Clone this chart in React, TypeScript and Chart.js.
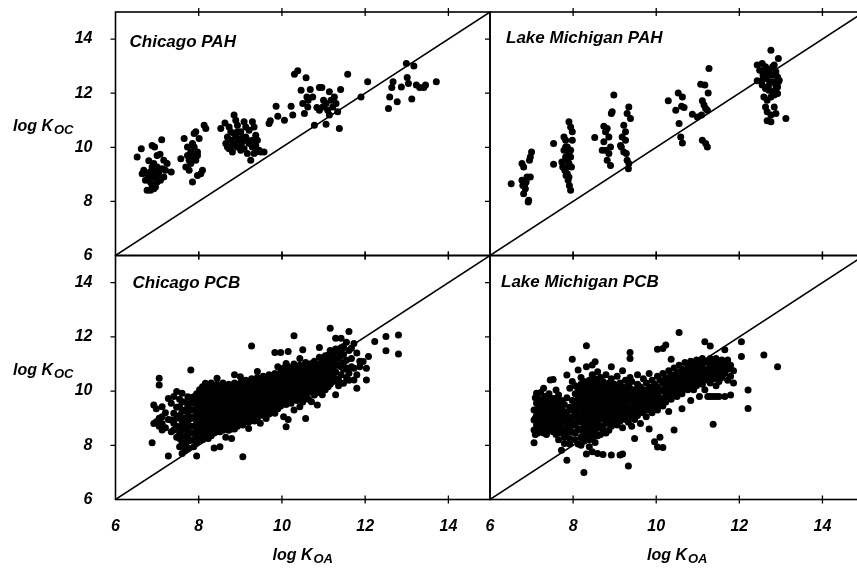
import { useEffect, useRef } from 'react';
import { Chart, registerables } from 'chart.js';

Chart.register(...registerables);

// ---------- data ----------
const axisMin = 6;
const axisMax = 15;
const tickLabels = [6, 8, 10, 12, 14];
const tickMarks = [8, 10, 12, 14];
const oneToOne = [6, 15];
const panelTitles = ['Chicago PAH', 'Lake Michigan PAH', 'Chicago PCB', 'Lake Michigan PCB'];
const yTitle = ['log K', 'OC'];
const xTitle = ['log K', 'OA'];

// [log KOA, log KOC]
const chicagoPah: [number, number][] = [
  [6.52, 9.64], [6.62, 9.95], [6.88, 10.07], [6.94, 10.01], [7.11, 10.28], [7.0, 9.7], [7.07, 9.74], [7.16, 9.52],
  [7.24, 9.4], [7.34, 9.09], [6.68, 9.15], [6.76, 9.02], [6.8, 8.9], [6.84, 8.72], [6.88, 8.59], [6.76, 8.41],
  [6.84, 8.41], [6.92, 8.47], [6.96, 8.53], [7.0, 8.72], [7.08, 8.78], [7.16, 8.9], [7.2, 9.15], [7.0, 9.27],
  [6.92, 9.4], [6.88, 9.27], [6.83, 9.09], [6.96, 9.02], [7.04, 9.09], [7.12, 9.21], [6.64, 9.02], [6.72, 8.78],
  [6.92, 8.9], [7.02, 8.93], [6.8, 9.5], [6.9, 9.15],
  [7.57, 9.58], [7.65, 10.32], [7.69, 9.27], [7.73, 10.01], [7.77, 9.15], [7.85, 8.72], [7.81, 9.83], [7.89, 10.51],
  [7.93, 10.57], [7.89, 9.64], [7.97, 8.96], [8.05, 9.02], [8.09, 9.15], [8.13, 10.81], [8.17, 10.69], [8.01, 10.32],
  [7.97, 9.83], [7.85, 9.64], [7.93, 9.52], [7.81, 9.4], [7.73, 9.7], [7.89, 10.01], [7.97, 9.7], [7.85, 10.14], [7.77, 9.52],
  [8.53, 10.69], [8.63, 10.9], [8.73, 10.75], [8.85, 11.19], [8.89, 11.0], [8.93, 10.81], [9.01, 10.57], [9.09, 10.94],
  [9.13, 10.75], [9.21, 10.63], [9.29, 10.94], [9.33, 10.75], [9.37, 10.44], [9.41, 10.26], [9.49, 9.83], [9.57, 9.83],
  [9.25, 9.52], [9.17, 9.77], [9.09, 9.95], [9.01, 9.89], [8.93, 10.01], [8.85, 10.14], [8.77, 10.26], [8.69, 10.38],
  [8.65, 10.14], [8.73, 9.95], [8.81, 9.83], [8.89, 10.38], [8.97, 10.26], [9.05, 10.2], [9.13, 10.38], [9.21, 10.14],
  [9.29, 10.01], [9.37, 9.83], [9.45, 9.89], [8.77, 10.57], [8.85, 10.51], [8.93, 10.57], [9.05, 10.38], [9.17, 10.26],
  [9.29, 10.26], [8.69, 10.01], [9.33, 9.77], [9.37, 10.07], [8.81, 10.07], [9.01, 10.07],
  [9.69, 10.88], [9.72, 10.98], [9.86, 11.52], [9.9, 11.15], [10.06, 11.0], [10.22, 11.52], [10.26, 11.19], [10.3, 12.7],
  [10.38, 12.83], [10.46, 12.11], [10.5, 11.62], [10.54, 11.25], [10.58, 12.57], [10.6, 11.86], [10.63, 11.74], [10.68, 12.14],
  [10.74, 11.86], [10.78, 10.81], [10.84, 11.47], [10.9, 12.21], [10.96, 12.21], [11.0, 11.74], [11.06, 11.62], [11.06, 10.85],
  [11.1, 11.37], [11.14, 12.05], [11.18, 11.74], [11.22, 11.49], [11.26, 11.86], [11.3, 11.62], [11.34, 11.31], [11.38, 10.69],
  [11.41, 12.14], [11.14, 11.19], [10.98, 11.49], [10.9, 11.37], [10.62, 11.49], [11.58, 12.7], [11.9, 11.86], [12.06, 12.42],
  [12.59, 11.86], [12.56, 11.43], [12.67, 12.42], [12.64, 12.21], [12.77, 11.68], [12.87, 12.23], [12.99, 13.1], [13.01, 12.58],
  [13.04, 12.36], [13.12, 11.78], [13.17, 13.0], [13.23, 12.3], [13.31, 12.21], [13.41, 12.21], [13.45, 12.3], [13.71, 12.42],
];

const lakeMichiganPah: [number, number][] = [
  [6.51, 8.65], [6.77, 9.4], [6.81, 9.27], [6.77, 8.78], [6.79, 8.59], [6.84, 8.65], [6.85, 8.47], [6.81, 8.28],
  [6.89, 8.9], [6.93, 8.04], [6.92, 7.98], [6.97, 9.64], [7.0, 9.83], [6.95, 9.52], [6.97, 8.9], [6.87, 8.72],
  [7.53, 10.14], [7.53, 9.37], [7.78, 10.38], [7.82, 10.26], [7.86, 10.01], [7.9, 10.94], [7.94, 10.75], [7.98, 10.57],
  [7.78, 9.89], [7.82, 9.64], [7.86, 9.52], [7.9, 9.77], [7.94, 9.64], [7.75, 9.27], [7.8, 9.15], [7.83, 8.96],
  [7.88, 8.78], [7.91, 8.59], [7.94, 8.41], [7.96, 9.27], [7.98, 10.26], [7.86, 9.27], [7.9, 9.4], [7.82, 10.01],
  [7.94, 9.89], [7.73, 9.46], [7.86, 9.02], [7.9, 8.9],
  [8.52, 10.36], [8.74, 10.78], [8.78, 10.57], [8.82, 10.69], [8.86, 10.38], [8.74, 10.2], [8.78, 9.89], [8.86, 9.77],
  [8.82, 9.52], [8.9, 9.33], [8.94, 11.31], [8.98, 11.93], [8.92, 11.25], [9.22, 10.81], [9.18, 10.38], [9.26, 10.57],
  [9.3, 11.25], [9.34, 11.49], [9.38, 11.06], [9.16, 10.01], [9.22, 9.83], [9.28, 9.77], [9.3, 9.52], [9.34, 9.4],
  [9.33, 9.21], [9.14, 10.07], [9.26, 10.26], [8.9, 10.01], [8.7, 9.89],
  [10.29, 11.72], [10.53, 12.01], [10.63, 11.86], [10.67, 11.47], [10.47, 11.37], [10.61, 11.52], [10.55, 10.88], [10.59, 10.38],
  [10.63, 10.16], [10.87, 11.22], [11.07, 12.33], [11.17, 12.3], [11.25, 12.01], [11.27, 12.91], [11.11, 11.72], [11.15, 11.56],
  [11.19, 11.43], [11.09, 11.19], [11.23, 11.37], [11.11, 10.26], [11.19, 10.14], [11.23, 10.01], [10.99, 11.12],
  [12.76, 13.59], [12.94, 13.28], [12.43, 13.04], [12.55, 13.1], [12.63, 12.98], [12.71, 12.85], [12.8, 12.98], [12.84, 13.04],
  [12.88, 12.79], [12.92, 12.6], [12.96, 12.48], [12.49, 12.85], [12.57, 12.67], [12.65, 12.54], [12.73, 12.42], [12.8, 12.67],
  [12.86, 12.36], [12.92, 12.23], [12.55, 12.3], [12.63, 12.17], [12.71, 12.11], [12.8, 12.05], [12.89, 11.99], [12.43, 12.46],
  [12.59, 11.86], [12.67, 11.74], [12.76, 11.86], [12.84, 11.93], [12.92, 11.99], [12.63, 11.49], [12.67, 11.31], [12.76, 11.19],
  [12.84, 11.49], [12.88, 11.25], [12.67, 10.98], [12.76, 10.94], [13.12, 11.06], [12.59, 12.79], [12.71, 12.67], [12.8, 12.42],
  [12.7, 12.26], [12.55, 12.48], [12.88, 12.17], [12.94, 12.42],
];

// congener log KOA -> measured log KOC values
const chicagoPcb: [number, number[]][] = [
  [6.88, [8.09]], [6.92, [9.49, 8.8]], [6.98, [8.87, 9.35]], [7.05, [10.47, 10.22, 8.7, 9.0]],
  [7.12, [8.56, 9.05, 9.42, 8.8]], [7.2, [9.2, 8.65]], [7.27, [7.6, 9.73, 8.95]], [7.34, [9.55, 8.93, 8.5]],
  [7.4, [9.18, 8.56, 8.81, 9.8]], [7.47, [9.98, 9.4, 8.3, 8.7, 9.0]], [7.54, [9.42, 8.68, 8.25, 7.95, 9.7, 9.1, 8.45]],
  [7.6, [7.7, 9.61, 9.92, 8.9, 9.25, 8.1, 8.55]], [7.67, [9.3, 8.81, 8.32, 7.82, 9.6, 9.0, 8.6, 8.05]],
  [7.74, [9.79, 9.18, 8.62, 7.9, 9.45, 8.9, 8.4, 8.15]], [7.81, [10.78, 8.19, 9.55, 8.99, 9.3, 8.7, 8.45, 9.75]],
  [7.88, [7.95, 9.79, 8.44, 9.3, 9.05, 8.7, 8.2, 9.55]], [7.95, [7.6, 9.9, 9.6, 9.35, 9.1, 8.85, 8.6, 8.35, 8.1]],
  [8.02, [9.8, 9.55, 9.3, 9.05, 8.8, 8.55, 8.3, 10.05]], [8.09, [10.16, 9.95, 9.7, 9.45, 9.2, 8.95, 8.7, 8.45, 8.2]],
  [8.16, [10.29, 9.85, 9.6, 9.35, 9.1, 8.85, 8.6, 8.35, 10.05]], [8.23, [10.2, 9.95, 9.7, 9.45, 9.2, 8.95, 8.7, 8.45, 8.25]],
  [8.3, [10.3, 10.05, 9.8, 9.55, 9.3, 9.05, 8.8, 8.55, 8.35]], [8.37, [10.15, 9.9, 9.65, 9.4, 9.15, 8.9, 8.65, 8.45, 7.9]],
  [8.44, [10.47, 10.25, 10.0, 9.75, 9.5, 9.25, 9.0, 8.75, 8.5]], [8.51, [10.2, 9.95, 9.7, 9.45, 9.2, 8.95, 8.7, 8.5, 7.95]],
  [8.58, [10.3, 10.05, 9.8, 9.55, 9.3, 9.05, 8.8, 8.55]], [8.65, [10.15, 9.9, 9.65, 9.4, 9.15, 8.9, 8.65, 8.3]],
  [8.72, [10.25, 10.0, 9.75, 9.5, 9.25, 9.0, 8.75, 8.55]], [8.79, [10.1, 9.85, 9.6, 9.35, 9.1, 8.85, 8.6, 8.25]],
  [8.86, [10.6, 10.3, 10.05, 9.8, 9.55, 9.3, 9.05, 8.8, 8.6]], [8.93, [10.15, 9.9, 9.65, 9.4, 9.15, 8.9, 8.7]],
  [9.0, [10.53, 10.3, 10.05, 9.8, 9.55, 9.3, 9.05, 8.8]], [9.06, [7.58, 10.2, 9.95, 9.7, 9.45, 9.2, 8.95, 8.75]],
  [9.13, [10.4, 10.15, 9.9, 9.65, 9.4, 9.15, 8.9]], [9.2, [10.3, 10.05, 9.8, 9.55, 9.3, 9.05, 8.85, 8.62]],
  [9.27, [11.66, 10.45, 10.2, 9.95, 9.7, 9.45, 9.2, 8.95]], [9.34, [10.35, 10.1, 9.85, 9.6, 9.35, 9.1, 8.9]],
  [9.41, [10.72, 10.5, 10.25, 10.0, 9.75, 9.5, 9.25, 9.0]], [9.48, [10.4, 10.15, 9.9, 9.65, 9.4, 9.15, 8.81]],
  [9.55, [10.55, 10.3, 10.05, 9.8, 9.55, 9.3, 9.1]], [9.62, [10.45, 10.2, 9.95, 9.7, 9.45, 9.2, 8.99]],
  [9.69, [10.6, 10.35, 10.1, 9.85, 9.6, 9.35, 9.15]], [9.76, [10.5, 10.25, 10.0, 9.75, 9.5, 9.25]],
  [9.83, [11.42, 10.65, 10.4, 10.15, 9.9, 9.65, 9.4, 9.18]], [9.9, [10.9, 10.55, 10.3, 10.05, 9.8, 9.55, 9.35]],
  [9.97, [11.42, 10.7, 10.45, 10.2, 9.95, 9.7, 9.45]], [10.04, [10.85, 10.6, 10.35, 10.1, 9.85, 9.6, 9.05]],
  [10.1, [11.02, 10.75, 10.5, 10.25, 10.0, 9.75, 9.5, 8.68]], [10.15, [11.46, 10.9, 10.65, 10.4, 10.15, 9.9, 9.65, 8.95]],
  [10.22, [10.8, 10.55, 10.3, 10.05, 9.8, 9.55]], [10.29, [12.04, 11.0, 10.72, 10.47, 10.22, 9.97, 9.72, 9.3]],
  [10.36, [10.9, 10.65, 10.4, 10.15, 9.9, 9.65]], [10.43, [11.2, 10.95, 10.7, 10.45, 10.2, 9.95, 9.7, 9.42]],
  [10.5, [11.52, 10.85, 10.6, 10.35, 10.1, 9.85, 9.6]], [10.57, [11.05, 10.8, 10.55, 10.3, 10.05, 9.8, 8.99]],
  [10.64, [10.95, 10.7, 10.45, 10.2, 9.95, 9.7]], [10.71, [11.02, 10.8, 10.55, 10.3, 10.05, 9.61]],
  [10.78, [11.1, 10.85, 10.6, 10.35, 10.1, 9.85]], [10.85, [10.95, 10.7, 10.45, 10.2, 9.95, 9.49]],
  [10.9, [11.61, 11.25, 11.0, 10.75, 10.5, 10.25, 10.0]], [10.97, [11.14, 10.9, 10.65, 10.4, 10.15, 9.86]],
  [11.04, [11.3, 11.05, 10.78, 10.55, 10.3, 10.05]], [11.11, [11.33, 11.1, 10.85, 10.6, 10.35, 10.16]],
  [11.16, [12.32, 11.5, 11.25, 11.0, 10.75, 10.5, 10.25]], [11.23, [11.4, 11.15, 10.9, 10.59, 10.35]],
  [11.29, [11.95, 11.55, 11.2, 10.95, 10.7, 10.45, 9.86]], [11.36, [11.45, 11.2, 10.95, 10.41, 10.2]],
  [11.42, [11.95, 11.6, 11.3, 10.9, 10.6]], [11.48, [11.64, 11.35, 11.05, 10.8, 10.29]],
  [11.55, [11.8, 11.14, 10.85, 10.5]], [11.61, [12.2, 11.5, 10.66, 10.4]], [11.67, [11.58, 11.2, 10.9]],
  [11.73, [11.75, 10.84, 10.41]], [11.8, [11.4, 10.6, 10.1]], [11.87, [10.9, 11.1]], [11.95, [11.09]],
  [12.03, [10.41, 10.84]], [12.08, [11.27]], [12.23, [11.83]], [12.5, [12.01, 11.49]], [12.8, [12.07, 11.37]],
];

const lakeMichiganPcb: [number, number[]][] = [
  [7.06, [8.09, 8.93, 8.56, 9.3]], [7.09, [9.75, 9.0, 8.4]], [7.12, [9.55, 8.75, 9.1, 9.92]], [7.15, [9.35, 8.45]],
  [7.18, [9.18, 8.6, 8.9, 9.7]], [7.22, [9.95, 9.05, 8.75]], [7.25, [9.42, 8.87, 9.6, 8.65, 9.15]], [7.29, [9.25, 8.45, 10.1]],
  [7.32, [9.05, 8.55, 9.8, 9.3]], [7.36, [9.55, 8.8, 8.4]], [7.39, [8.68, 9.73, 9.2, 8.95, 9.45]], [7.42, [9.9, 9.35, 8.55]],
  [7.45, [10.41, 9.18, 8.8, 9.55, 9.0]], [7.49, [9.6, 9.1, 8.75]], [7.52, [10.43, 9.73, 9.35, 8.9, 8.5]], [7.56, [9.5, 9.2, 8.65]],
  [7.59, [10.04, 9.6, 9.1, 8.7, 8.4]], [7.62, [9.75, 9.3, 8.9]], [7.65, [9.05, 8.62, 9.85, 9.4, 8.2]], [7.69, [9.55, 9.15, 8.75]],
  [7.72, [7.82, 9.3, 8.85, 9.65, 8.45, 9.05]], [7.79, [8.07, 9.5, 9.0, 8.6, 9.25, 8.3]],
  [7.85, [10.59, 7.45, 9.75, 9.2, 8.8, 8.45]], [7.92, [8.25, 9.4, 9.0, 8.65, 10.1, 8.05]],
  [7.98, [11.17, 9.05, 9.65, 9.3, 8.85, 8.5, 10.35]], [8.05, [8.44, 9.9, 9.5, 9.15, 8.75, 8.2, 10.2]],
  [8.12, [10.78, 9.75, 9.35, 8.95, 8.6, 8.05, 10.05, 9.55, 9.15]],
  [8.19, [10.5, 10.25, 9.95, 9.65, 9.4, 9.1, 8.85, 8.55, 8.3, 8.0]],
  [8.26, [7.0, 10.35, 10.1, 9.8, 9.55, 9.25, 9.0, 8.7, 8.45, 8.15]],
  [8.32, [11.67, 10.9, 10.2, 9.95, 9.7, 9.4, 9.15, 8.9, 8.6, 8.35, 7.68]],
  [8.39, [10.4, 10.05, 9.8, 9.55, 9.3, 9.0, 8.75, 8.5, 8.2, 7.95]],
  [8.46, [10.96, 10.6, 10.25, 9.95, 9.65, 9.4, 9.1, 8.85, 8.6, 8.3, 7.76]],
  [8.53, [11.08, 10.45, 10.1, 9.85, 9.55, 9.3, 9.05, 8.75, 8.45, 8.1]],
  [8.59, [10.71, 10.3, 10.0, 9.7, 9.45, 9.15, 8.9, 8.65, 8.35, 7.7]],
  [8.66, [10.5, 10.15, 9.85, 9.6, 9.3, 9.0, 8.7, 8.4]], [8.72, [10.35, 10.0, 9.75, 9.45, 9.2, 8.95, 8.6, 7.66]],
  [8.79, [10.6, 10.15, 9.85, 9.55, 9.3, 9.05, 8.8, 8.45]], [8.86, [10.3, 9.95, 9.7, 9.4, 9.15, 8.9, 8.55]],
  [8.92, [10.9, 10.45, 10.1, 9.8, 9.55, 9.3, 9.0, 8.7, 7.64]], [8.99, [10.25, 9.95, 9.65, 9.4, 9.1, 8.8]],
  [9.06, [10.55, 10.1, 9.85, 9.55, 9.3, 9.0, 8.75]], [9.13, [10.3, 9.95, 9.7, 9.45, 9.15, 8.9, 7.64]],
  [9.19, [10.75, 10.15, 9.85, 9.6, 9.35, 9.05, 8.65, 7.68]], [9.26, [10.4, 10.05, 9.75, 9.5, 9.25, 8.95]],
  [9.33, [7.24, 10.25, 9.95, 9.7, 9.4, 9.15, 8.85]], [9.37, [11.42, 11.2, 10.5, 10.1]],
  [9.41, [10.35, 9.85, 9.6, 9.3, 9.05, 8.7]], [9.48, [10.05, 9.75, 9.5, 9.2, 8.25, 8.95]],
  [9.55, [10.6, 10.25, 9.95, 9.65, 9.4, 9.1]], [9.62, [10.15, 9.85, 9.55, 9.3, 8.8]],
  [9.69, [10.45, 10.05, 9.75, 9.5, 9.2]], [9.76, [10.3, 9.95, 9.65, 9.4, 9.05]],
  [9.83, [10.65, 10.15, 9.85, 9.6, 9.3, 8.6]], [9.9, [10.4, 10.05, 9.75, 9.5, 9.2]],
  [9.96, [8.13, 10.25, 9.95, 9.7, 9.4]], [10.03, [11.54, 10.55, 10.15, 9.85, 9.6, 9.3, 7.94]],
  [10.09, [10.4, 10.05, 9.75, 9.5, 8.3]], [10.16, [11.57, 10.65, 10.3, 10.0, 9.7, 9.45, 7.92]],
  [10.23, [11.7, 10.5, 10.2, 9.9, 9.6]], [10.3, [10.75, 10.4, 10.1, 9.8, 9.25]],
  [10.36, [11.17, 10.6, 10.3, 10.0, 9.7]], [10.43, [10.85, 10.5, 10.2, 9.9, 8.56]],
  [10.5, [10.7, 10.4, 10.1, 9.8]], [10.55, [12.16, 10.95, 10.6, 10.3, 10.0]],
  [10.62, [10.8, 10.5, 10.2, 9.9, 9.35]], [10.69, [11.05, 10.7, 10.4, 10.1]],
  [10.76, [10.9, 10.6, 10.3, 10.05]], [10.83, [11.1, 10.75, 10.45, 10.15, 9.65]],
  [10.9, [10.95, 10.65, 10.35, 10.05]], [10.97, [11.15, 10.8, 10.5, 10.2]],
  [11.04, [11.0, 10.7, 10.4, 9.8]], [11.11, [11.2, 10.85, 10.55, 10.25]],
  [11.17, [11.82, 11.05, 10.7, 10.4, 10.05]], [11.24, [11.1, 10.8, 10.5, 9.8]],
  [11.3, [11.66, 11.2, 10.9, 10.6, 10.3, 9.8]], [11.37, [11.05, 10.75, 10.45, 9.8, 8.78]],
  [11.44, [11.2, 10.9, 10.55, 10.2, 9.8]], [11.51, [11.0, 10.7, 10.35, 9.8]],
  [11.58, [11.15, 10.85, 10.5]], [11.65, [11.52, 11.0, 10.65, 9.8]], [11.72, [11.15, 10.8, 10.4]],
  [11.79, [10.95, 10.55, 9.85]], [11.86, [10.75, 10.3]], [12.05, [11.82, 11.27]], [12.21, [10.04, 9.36]],
  [12.59, [11.33]], [12.92, [10.9]],
];

// ---------- layout ----------
const CANVAS_W = 880;
const CANVAS_H = 568;
const colEdges = [115.5, 490, 864];
const rowEdges = [12, 255.5, 499.5];
const FONT_FAMILY = '"Liberation Sans", Arial, sans-serif';
const titleOffsets = [
  [14, 34.5],
  [16, 30.7],
  [17, 32.8],
  [11, 31.2],
];

const pairsToPoints = (pairs: [number, number][]) => pairs.map(([x, y]) => ({ x, y }));
const colsToPoints = (cols: [number, number[]][]) =>
  cols.flatMap(([x, ys]) => ys.map((y) => ({ x, y })));

const panelData = [
  pairsToPoints(chicagoPah),
  pairsToPoints(lakeMichiganPah),
  colsToPoints(chicagoPcb),
  colsToPoints(lakeMichiganPcb),
];

function drawSubTitle(ctx: CanvasRenderingContext2D, parts: string[], x: number, y: number) {
  ctx.font = `italic bold 16px ${FONT_FAMILY}`;
  ctx.textAlign = 'left';
  ctx.textBaseline = 'alphabetic';
  ctx.fillText(parts[0], x, y);
  const w = ctx.measureText(parts[0]).width;
  ctx.font = `italic bold 13px ${FONT_FAMILY}`;
  ctx.fillText(parts[1], x + w + 1, y + 3);
}

function makeChart(canvas: HTMLCanvasElement, idx: number) {
  const col = idx % 2;
  const row = Math.floor(idx / 2);
  const left = colEdges[col];
  const right = colEdges[col + 1];
  const top = rowEdges[row];
  const bottom = rowEdges[row + 1];
  const showY = col === 0;
  const showX = row === 1;
  const tickFont = { family: FONT_FAMILY, size: 16, style: 'italic' as const, weight: 'bold' as const };

  const decor = {
    id: 'panelDecor',
    afterDraw(chart: any) {
      const { ctx, chartArea: a, scales } = chart;
      const xs = scales.x;
      const ys = scales.y;
      ctx.save();
      ctx.strokeStyle = '#000';
      ctx.lineWidth = 1.6;
      ctx.strokeRect(a.left, a.top, a.right - a.left, a.bottom - a.top);
      ctx.lineWidth = 1.3;
      ctx.beginPath();
      for (const v of tickMarks) {
        const px = xs.getPixelForValue(v);
        ctx.moveTo(px, a.bottom - 4);
        ctx.lineTo(px, a.bottom + 4);
        ctx.moveTo(px, a.top - 4);
        ctx.lineTo(px, a.top + 4);
        const py = ys.getPixelForValue(v);
        ctx.moveTo(a.left - 5, py);
        ctx.lineTo(a.left, py);
      }
      ctx.stroke();
      ctx.fillStyle = '#000';
      ctx.font = `italic bold 17px ${FONT_FAMILY}`;
      ctx.textAlign = 'left';
      ctx.textBaseline = 'alphabetic';
      ctx.fillText(panelTitles[idx], a.left + titleOffsets[idx][0], a.top + titleOffsets[idx][1]);
      if (showY) drawSubTitle(ctx, yTitle, 13, a.top + 119);
      if (showX) drawSubTitle(ctx, xTitle, a.left + 157, a.bottom + 60);
      ctx.restore();
    },
  };

  return new Chart(canvas, {
    type: 'scatter',
    data: {
      datasets: [
        {
          data: panelData[idx],
          backgroundColor: '#000',
          borderColor: '#000',
          borderWidth: 0,
          pointRadius: 3.5,
          pointHoverRadius: 3.5,
        },
        {
          data: oneToOne.map((v) => ({ x: v, y: v })),
          showLine: true,
          borderColor: '#000',
          borderWidth: 1.5,
          pointRadius: 0,
          fill: false,
        },
      ],
    },
    options: {
      animation: false,
      responsive: false,
      devicePixelRatio: 1,
      events: [],
      layout: {
        padding: {
          left: showY ? 0 : left,
          top,
          right: CANVAS_W - right,
          bottom: showX ? 0 : CANVAS_H - bottom,
        },
      },
      plugins: { legend: { display: false }, tooltip: { enabled: false } },
      scales: {
        x: {
          type: 'linear',
          position: 'bottom',
          min: axisMin,
          max: axisMax,
          grid: { display: false },
          border: { display: false },
          ticks: {
            display: showX,
            padding: 9,
            color: '#000',
            font: tickFont,
            autoSkip: false,
            maxRotation: 0,
          },
          afterBuildTicks: (s: any) => {
            s.ticks = tickLabels.map((v) => ({ value: v }));
          },
          afterFit: (s: any) => {
            s.height = showX ? CANVAS_H - bottom : 0;
            s.paddingLeft = 0;
            s.paddingRight = 0;
            s.paddingTop = 0;
            s.paddingBottom = 0;
          },
        },
        y: {
          type: 'linear',
          position: 'left',
          min: axisMin,
          max: axisMax,
          grid: { display: false },
          border: { display: false },
          ticks: {
            display: showY,
            padding: 15,
            color: '#000',
            font: tickFont,
            autoSkip: false,
          },
          afterBuildTicks: (s: any) => {
            s.ticks = tickLabels.map((v) => ({ value: v }));
          },
          afterFit: (s: any) => {
            s.width = showY ? left : 0;
            s.paddingTop = 0;
            s.paddingBottom = 0;
            s.paddingLeft = 0;
            s.paddingRight = 0;
          },
        },
      },
    },
    plugins: [decor],
  });
}

export default function App() {
  const canvasRefs = useRef<(HTMLCanvasElement | null)[]>([]);

  useEffect(() => {
    const charts = canvasRefs.current.map((c, i) => (c ? makeChart(c, i) : null));
    return () => {
      charts.forEach((c) => c && c.destroy());
    };
  }, []);

  return (
    <div
      style={{
        position: 'fixed',
        left: 0,
        top: 0,
        width: 857,
        height: 568,
        overflow: 'hidden',
        background: '#fff',
      }}
    >
      {[0, 1, 2, 3].map((i) => (
        <canvas
          key={i}
          ref={(el) => {
            canvasRefs.current[i] = el;
          }}
          width={CANVAS_W}
          height={CANVAS_H}
          style={{ position: 'absolute', left: 0, top: 0, width: CANVAS_W, height: CANVAS_H }}
        />
      ))}
    </div>
  );
}
